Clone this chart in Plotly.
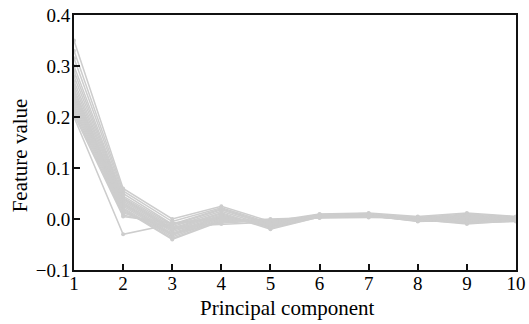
import plotly.graph_objects as go

components = [1, 2, 3, 4, 5, 6, 7, 8, 9, 10]

series = [
    [0.350, 0.060, 0.000, 0.025, -0.005, 0.010, 0.012, 0.005, 0.012, 0.005],
    [0.330, 0.055, -0.005, 0.022, -0.008, 0.008, 0.010, 0.003, 0.010, 0.004],
    [0.315, 0.050, -0.010, 0.020, -0.010, 0.007, 0.010, 0.002, 0.008, 0.003],
    [0.300, 0.045, -0.012, 0.018, -0.012, 0.006, 0.009, 0.000, 0.006, 0.002],
    [0.290, 0.042, -0.015, 0.015, -0.015, 0.005, 0.008, -0.002, 0.004, 0.001],
    [0.280, 0.040, -0.018, 0.012, -0.018, 0.004, 0.007, -0.003, 0.002, 0.000],
    [0.270, 0.038, -0.020, 0.010, -0.020, 0.004, 0.006, -0.004, 0.000, -0.001],
    [0.262, 0.035, -0.022, 0.008, -0.016, 0.005, 0.007, -0.005, -0.002, -0.002],
    [0.255, 0.032, -0.025, 0.006, -0.014, 0.006, 0.008, -0.004, -0.004, -0.003],
    [0.250, 0.030, -0.028, 0.005, -0.012, 0.007, 0.009, -0.003, -0.006, -0.004],
    [0.245, 0.028, -0.030, 0.004, -0.010, 0.008, 0.010, -0.002, -0.008, -0.005],
    [0.240, 0.025, -0.032, 0.002, -0.008, 0.009, 0.011, -0.001, -0.010, -0.003],
    [0.235, 0.022, -0.035, 0.000, -0.006, 0.006, 0.008, 0.001, -0.008, -0.002],
    [0.230, 0.020, -0.038, -0.002, -0.004, 0.005, 0.006, 0.002, -0.005, 0.000],
    [0.225, 0.018, -0.040, -0.004, -0.002, 0.004, 0.005, 0.003, -0.002, 0.002],
    [0.220, 0.015, -0.030, -0.006, 0.000, 0.003, 0.004, 0.004, 0.000, 0.003],
    [0.215, 0.012, -0.020, -0.008, -0.003, 0.002, 0.003, 0.002, 0.003, 0.001],
    [0.210, 0.008, -0.015, -0.010, -0.006, 0.003, 0.005, 0.000, 0.005, -0.001],
    [0.205, 0.005, -0.008, 0.003, -0.009, 0.005, 0.007, -0.002, 0.007, -0.002],
    [0.200, -0.030, -0.010, 0.001, -0.011, 0.006, 0.006, -0.003, 0.004, 0.000],
]

y_ticks = [-0.1, 0.0, 0.1, 0.2, 0.3, 0.4]
y_tick_labels = ["\u22120.1", "0.0", "0.1", "0.2", "0.3", "0.4"]
x_title = "Principal component"
y_title = "Feature value"

fig = go.Figure()
for s in series:
    fig.add_trace(go.Scatter(
        x=components, y=s, mode="lines+markers",
        line=dict(color="#cdcdcd", width=1.5),
        marker=dict(color="#cdcdcd", size=4),
        showlegend=False, hoverinfo="skip",
    ))

tick_font = dict(family="Liberation Serif, Times New Roman, serif", size=19, color="#000")
title_font = dict(family="Liberation Serif, Times New Roman, serif", size=21, color="#000")
axis_common = dict(
    showgrid=False, zeroline=False, showline=True, linecolor="#111", linewidth=2,
    mirror=True, ticks="inside", ticklen=6, tickwidth=1.5, tickcolor="#111",
    tickfont=tick_font, automargin=False,
)
fig.update_layout(
    width=529, height=324,
    margin=dict(l=74, r=13, t=15, b=54, autoexpand=False),
    paper_bgcolor="white", plot_bgcolor="white",
    font=tick_font,
    xaxis=dict(range=[1, 10], tickvals=components, ticklabeloverflow="allow",
               ticklabelstandoff=-5, **axis_common),
    yaxis=dict(range=[-0.1, 0.4], tickvals=y_ticks, ticktext=y_tick_labels,
               ticklabelstandoff=-2, **axis_common),
    annotations=[
        dict(text=x_title, xref="paper", yref="paper", x=0.482, y=-0.148, yanchor="middle",
             xanchor="center", showarrow=False, font=title_font),
        dict(text=y_title, xref="paper", yref="paper", x=-0.122, y=0.45, xanchor="center",
             yanchor="middle", textangle=-90, showarrow=False, font=title_font),
    ],
)
fig.write_html(
    "out.html",
    config={"displayModeBar": False},
    post_script="document.body.style.margin='0px';document.body.style.padding='0px';document.body.style.overflow='hidden';",
)
